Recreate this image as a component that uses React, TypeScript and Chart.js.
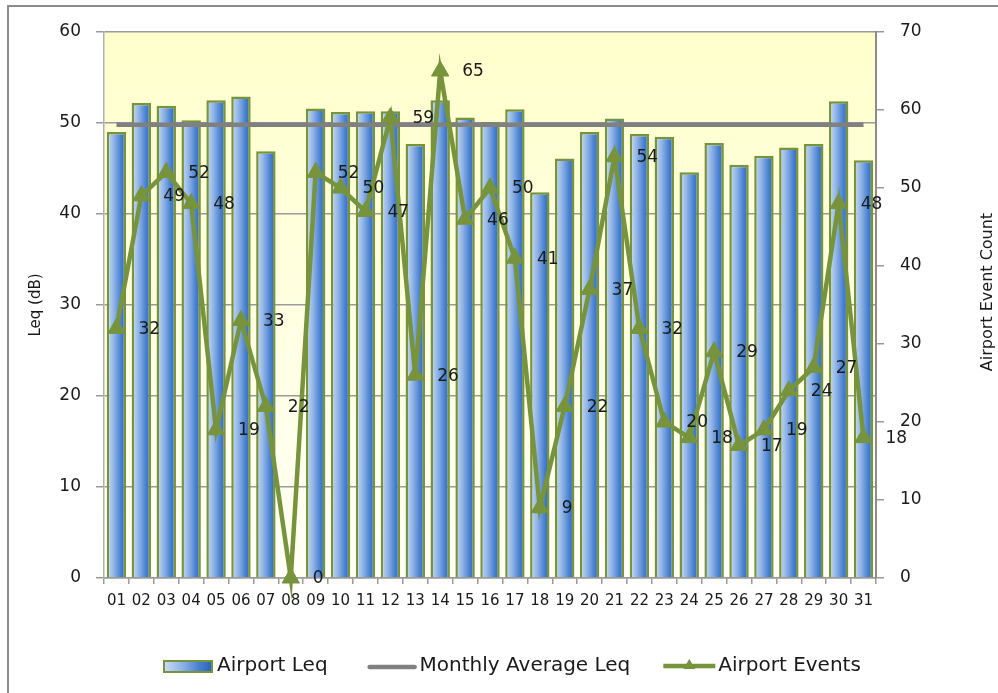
import React, { useEffect, useRef } from 'react';
import { Chart, registerables } from 'chart.js';

Chart.register(...registerables);

// ---- data ----
const days = ['01', '02', '03', '04', '05', '06', '07', '08', '09', '10', '11', '12', '13', '14', '15', '16',
  '17', '18', '19', '20', '21', '22', '23', '24', '25', '26', '27', '28', '29', '30', '31'];
const airportLeq = [49.0, 52.2, 51.9, 50.3, 52.5, 52.9, 46.9, null, 51.6, 51.2, 51.3, 51.3, 47.7, 52.5, 50.6, 50.1,
  51.5, 42.4, 46.1, 49.0, 50.5, 48.8, 48.5, 44.6, 47.8, 45.4, 46.4, 47.3, 47.7, 52.4, 45.9];
const monthlyAverageLeq = [49.8, 49.8, 49.8, 49.8, 49.8, 49.8, 49.8, 49.8, 49.8, 49.8, 49.8, 49.8, 49.8, 49.8, 49.8, 49.8,
  49.8, 49.8, 49.8, 49.8, 49.8, 49.8, 49.8, 49.8, 49.8, 49.8, 49.8, 49.8, 49.8, 49.8, 49.8];
const airportEvents = [32, 49, 52, 48, 19, 33, 22, 0, 52, 50, 47, 59, 26, 65, 46, 50, 41, 9, 22, 37, 54, 32, 20, 18,
  29, 17, 19, 24, 27, 48, 18];
const seriesNames = ['Airport Leq', 'Monthly Average Leq', 'Airport Events'];
const leftAxis = { min: 0, max: 60, step: 10, title: 'Leq (dB)' };
const rightAxis = { min: 0, max: 70, step: 10, title: 'Airport Event Count' };

// ---- styles ----
const GREEN = '#77933c';
const GRAY_LINE = '#808080';
const GRID = '#9a9a9a';
const TEXT = '#1a1a1a';
const FONT = '"DejaVu Sans", Verdana, sans-serif';
const BAR_PCT = 0.78;

function blueGradient(ctx: CanvasRenderingContext2D, x0: number, x1: number) {
  const g = ctx.createLinearGradient(x0, 0, x1, 0);
  g.addColorStop(0, '#cadcf4');
  g.addColorStop(0.35, '#93b6e7');
  g.addColorStop(0.72, '#4a82d2');
  g.addColorStop(1, '#2a62ba');
  return g;
}

const barFill = (c: any) => {
  const chart = c.chart;
  const xs = chart.scales && chart.scales.x;
  if (!xs || c.dataIndex === undefined || !chart.chartArea) return '#7ea6de';
  const n = chart.data.labels.length;
  const w = (xs.width / n) * BAR_PCT;
  const cx = xs.getPixelForValue(c.dataIndex);
  return blueGradient(chart.ctx, cx - w / 2, cx + w / 2);
};

const decorPlugin = {
  id: 'decor',
  beforeDraw(chart: any) {
    const { ctx, chartArea } = chart;
    ctx.save();
    // outer frame (top + left edges)
    ctx.strokeStyle = '#8c8c8c';
    ctx.lineWidth = 2;
    ctx.beginPath();
    ctx.moveTo(8, chart.height);
    ctx.lineTo(8, 6);
    ctx.lineTo(chart.width, 6);
    ctx.stroke();
    // plot background
    const g = ctx.createLinearGradient(0, chartArea.top, 0, chartArea.bottom);
    g.addColorStop(0, '#ffffcc');
    g.addColorStop(1, '#fffff6');
    ctx.fillStyle = g;
    ctx.fillRect(chartArea.left, chartArea.top, chartArea.right - chartArea.left, chartArea.bottom - chartArea.top);
    ctx.restore();
  },
  afterDatasetsDraw(chart: any) {
    const { ctx } = chart;
    const meta = chart.getDatasetMeta(2);
    const data = chart.data.datasets[2].data;
    ctx.save();
    ctx.font = `17px ${FONT}`;
    ctx.fillStyle = TEXT;
    ctx.textAlign = 'left';
    ctx.textBaseline = 'middle';
    meta.data.forEach((el: any, i: number) => {
      ctx.fillText(String(data[i]), el.x + 22, el.y + 1);
    });
    ctx.restore();
  },
  afterDraw(chart: any) {
    const { ctx, chartArea } = chart;
    ctx.save();
    // axis titles
    ctx.fillStyle = TEXT;
    ctx.textAlign = 'center';
    ctx.textBaseline = 'middle';
    ctx.font = `15px ${FONT}`;
    ctx.translate(36, (chartArea.top + chartArea.bottom) / 2);
    ctx.rotate(-Math.PI / 2);
    ctx.fillText(leftAxis.title, 0, 0);
    ctx.restore();
    ctx.save();
    ctx.fillStyle = TEXT;
    ctx.textAlign = 'center';
    ctx.textBaseline = 'middle';
    ctx.font = `16px ${FONT}`;
    ctx.translate(988, 292);
    ctx.rotate(-Math.PI / 2);
    ctx.fillText(rightAxis.title, 0, 0);
    ctx.restore();

    // legend
    ctx.save();
    ctx.font = `20px ${FONT}`;
    ctx.textBaseline = 'middle';
    ctx.textAlign = 'left';
    const ly = 666;
    let x = 164;
    const names = chart.data.datasets.map((d: any) => d.label);
    // item 1: bar swatch
    ctx.fillStyle = blueGradient(ctx, x, x + 48);
    ctx.fillRect(x, ly - 5, 48, 11);
    ctx.strokeStyle = GREEN;
    ctx.lineWidth = 2;
    ctx.strokeRect(x, ly - 5, 48, 11);
    x += 53;
    ctx.fillStyle = TEXT;
    ctx.fillText(names[0], x, ly);
    x += ctx.measureText(names[0]).width + 40;
    // item 2: gray line
    ctx.strokeStyle = GRAY_LINE;
    ctx.lineWidth = 4.5;
    ctx.lineCap = 'round';
    ctx.beginPath();
    ctx.moveTo(x + 2, ly + 1);
    ctx.lineTo(x + 47, ly + 1);
    ctx.stroke();
    x += 52;
    ctx.fillStyle = TEXT;
    ctx.fillText(names[1], x, ly);
    x += ctx.measureText(names[1]).width + 33;
    // item 3: green line + triangle
    ctx.strokeStyle = GREEN;
    ctx.lineWidth = 4.5;
    ctx.lineCap = 'butt';
    ctx.beginPath();
    ctx.moveTo(x, ly);
    ctx.lineTo(x + 52, ly);
    ctx.stroke();
    ctx.fillStyle = GREEN;
    const cx = x + 26;
    ctx.beginPath();
    ctx.moveTo(cx, ly - 7);
    ctx.lineTo(cx + 6, ly + 3);
    ctx.lineTo(cx - 6, ly + 3);
    ctx.closePath();
    ctx.fill();
    x += 55;
    ctx.fillStyle = TEXT;
    ctx.fillText(names[2], x, ly);
    ctx.restore();
  },
};

export default function App() {
  const ref = useRef<HTMLCanvasElement | null>(null);
  useEffect(() => {
    if (!ref.current) return;
    const chart = new Chart(ref.current, {
      type: 'bar',
      data: {
        labels: days,
        datasets: [
          {
            type: 'bar',
            label: seriesNames[0],
            data: airportLeq,
            yAxisID: 'y',
            backgroundColor: barFill,
            borderColor: GREEN,
            borderWidth: 2.5,
            barPercentage: BAR_PCT,
            categoryPercentage: 1,
            order: 3,
          },
          {
            type: 'line',
            label: seriesNames[1],
            data: monthlyAverageLeq,
            yAxisID: 'y',
            borderColor: GRAY_LINE,
            borderWidth: 4.5,
            pointRadius: 0,
            order: 2,
          },
          {
            type: 'line',
            label: seriesNames[2],
            data: airportEvents,
            yAxisID: 'y1',
            borderColor: GREEN,
            borderWidth: 4.5,
            pointStyle: 'triangle',
            pointRadius: 10,
            pointBackgroundColor: GREEN,
            pointBorderColor: GREEN,
            pointBorderWidth: 1,
            tension: 0,
            clip: false,
            order: 1,
          },
        ],
      } as any,
      options: {
        animation: false,
        responsive: false,
        events: [],
        layout: { padding: { top: 32, bottom: 75, left: 0, right: 0 } },
        plugins: {
          legend: { display: false },
          tooltip: { enabled: false },
          title: { display: false },
        },
        scales: {
          x: {
            offset: true,
            grid: { drawOnChartArea: false, offset: true, tickLength: 6, color: GRID, lineWidth: 1.5 },
            border: { color: GRID, width: 1.5 },
            ticks: {
              autoSkip: false,
              maxRotation: 0,
              minRotation: 0,
              padding: 8,
              color: TEXT,
              font: { family: FONT, size: 15 },
            },
            afterFit: (s: any) => { s.height = 40; },
          },
          y: {
            position: 'left',
            min: leftAxis.min,
            max: leftAxis.max,
            ticks: { stepSize: leftAxis.step, padding: 15, color: TEXT, font: { family: FONT, size: 17 } },
            grid: { color: GRID, lineWidth: 1.5, tickLength: 8 },
            border: { color: '#b0b0b0', width: 1.5 },
            afterFit: (s: any) => { s.width = 104; },
          },
          y1: {
            position: 'right',
            min: rightAxis.min,
            max: rightAxis.max,
            ticks: { stepSize: rightAxis.step, padding: 16, color: TEXT, font: { family: FONT, size: 17 } },
            grid: { drawOnChartArea: false, color: GRID, lineWidth: 1.5, tickLength: 8 },
            border: { color: '#8c8c8c', width: 2 },
            afterFit: (s: any) => { s.width = 122; },
          },
        },
      } as any,
      plugins: [decorPlugin],
    });
    return () => chart.destroy();
  }, []);
  return (
    <div style={{ position: 'absolute', left: 0, top: 0, width: 998, height: 693, background: '#fff' }}>
      <canvas ref={ref} width={998} height={693} style={{ display: 'block' }} />
    </div>
  );
}
